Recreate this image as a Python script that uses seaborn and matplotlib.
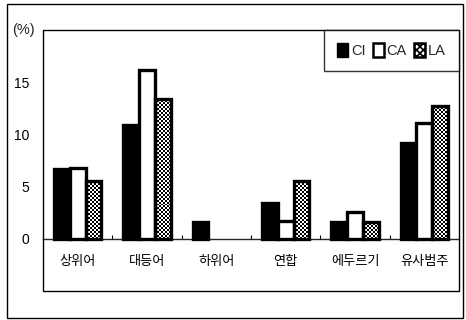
import numpy as np
import pandas as pd
import matplotlib
matplotlib.use("Agg")
import matplotlib.pyplot as plt
from matplotlib.patches import Patch, Rectangle
from matplotlib.ticker import FixedLocator
import seaborn as sns

# Share of each relation type, by measure (%)
categories = ["상위어", "대등어", "하위어", "연합", "에두르기", "유사범주"]
ci_values = [6.7, 10.9, 1.6, 3.4, 1.6, 9.2]
ca_values = [6.8, 16.2, 0.0, 1.7, 2.6, 11.1]
la_values = [5.5, 13.4, 0.0, 5.5, 1.6, 12.7]
series = ["CI", "CA", "LA"]
y_ticks = [0, 5, 10, 15]

df = pd.DataFrame({
    "category": categories * 3,
    "value": ci_values + ca_values + la_values,
    "series": [s for s in series for _ in categories],
})

sns.set_theme(style="white")
plt.rcParams["font.family"] = ["Noto Sans CJK KR", "DejaVu Sans"]
plt.rcParams["hatch.linewidth"] = 1.2
narrow = ["Liberation Sans Narrow", "Liberation Sans", "DejaVu Sans"]

fig = plt.figure(figsize=(4.66, 3.2), dpi=100)
ax = fig.add_axes([43 / 466, 29 / 320, 416 / 466, 261 / 320])

palette = {"CI": "black", "CA": "white", "LA": "white"}
sns.barplot(data=df, x="category", y="value", hue="series", order=categories,
            hue_order=series, palette=palette, saturation=1, width=0.68,
            edgecolor="black", linewidth=2.4, legend=False, ax=ax, zorder=2)

ax.set_xlim(-0.5, len(categories) - 0.5)
ax.set_ylim(-5, 20)

# empty bars get no outline
for cont in ax.containers:
    for bar in cont:
        if bar.get_height() <= 0:
            bar.set_linewidth(0)

# checkerboard fill for the LA bars, clipped to each bar
x0, x1 = ax.get_xlim()
y0, y1 = ax.get_ylim()
yy, xx = np.indices((131, 208))
checker = (yy + xx) % 2
for bar in ax.containers[2]:
    bar.set_facecolor("none")
    if bar.get_height() <= 0:
        continue
    im = ax.imshow(checker, cmap="gray", extent=(x0, x1, y0, y1), aspect="auto",
                   interpolation="nearest", zorder=1.5, vmin=0, vmax=1)
    im.set_clip_path(bar)
ax.set_xlim(x0, x1)
ax.set_ylim(y0, y1)

# axis line at zero, with the frame drawn around the whole plot area
ax.spines["bottom"].set_position(("data", 0))
ax.spines["bottom"].set_linewidth(1.0)
ax.spines["bottom"].set_zorder(1)
for side in ["left", "top", "right"]:
    ax.spines[side].set_visible(False)
ax.add_patch(Rectangle((0, 0), 1, 1, transform=ax.transAxes, fill=False,
                       edgecolor="black", linewidth=1.0, zorder=5, clip_on=False))

ax.set_xlabel("")
ax.set_ylabel("")
ax.set_yticks(y_ticks)
ax.set_yticklabels([str(t) for t in y_ticks], fontfamily=narrow, fontsize=10)
ax.tick_params(axis="y", direction="in", length=3, width=0.8, pad=10, colors="black")
ax.xaxis.set_minor_locator(FixedLocator(np.arange(0.5, len(categories) - 0.5, 1)))
ax.tick_params(axis="x", which="major", length=0, pad=12, labelsize=9.5, colors="black")
ax.tick_params(axis="x", which="minor", direction="in", length=3, width=0.8,
               color="black", bottom=True)
ax.grid(False)

handles = [
    Patch(facecolor="black", edgecolor="black"),
    Patch(facecolor="white", edgecolor="black", linewidth=1.8),
    Patch(facecolor="white", edgecolor="black", hatch="xxxxx", linewidth=1.8),
]
leg = ax.legend(handles, series, loc="upper right", ncol=3, frameon=True,
                fancybox=False, borderaxespad=0, handlelength=0.75,
                handleheight=1.1, handletextpad=0.2, columnspacing=0.5,
                borderpad=0.9, prop={"family": narrow, "size": 10.5})
leg.get_frame().set_edgecolor("black")
leg.get_frame().set_linewidth(1.0)

fig.text(12 / 466, 1 - 30 / 320, "(%)", fontsize=10.5, va="center", ha="left",
         family=narrow)

fig.patches.append(Rectangle((7 / 466, 2 / 320), 456 / 466, 314 / 320,
                             transform=fig.transFigure, fill=False,
                             edgecolor="black", linewidth=1.0))

fig.savefig("out.png", dpi=100)
